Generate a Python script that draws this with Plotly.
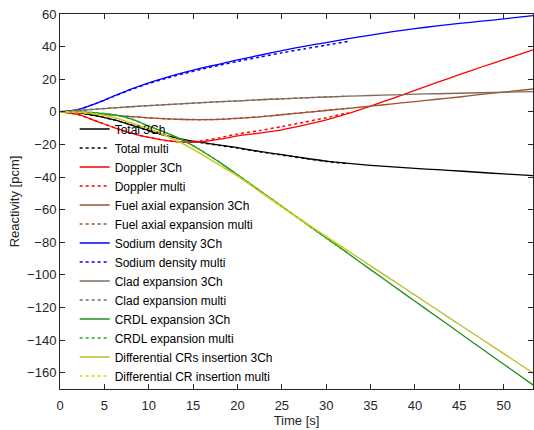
import plotly.graph_objects as go

# Time grids [s]
t_3ch = [0, 2, 4, 6, 8, 10, 12, 14, 16, 18, 20, 22.5, 25, 27.5, 30, 32.5,
         35, 37.5, 40, 42.5, 45, 47.5, 50, 53.3]
t_multi = [0, 2, 4, 6, 8, 10, 12, 14, 16, 18, 20, 22.5, 25, 27.5, 30, 32.5]

# Reactivity [pcm]
total_3ch = [0, -0.4, -2.3, -4.8, -8.0, -11.5, -14.6, -17.0, -18.8, -20.4, -22.0, -24.3,
             -26.3, -28.3, -30.2, -31.6, -32.8, -33.8, -34.7, -35.5, -36.3, -37.2, -38.1, -39.1]
total_multi = [0, -0.4, -2.3, -4.8, -8.0, -11.6, -14.8, -17.2, -19.0, -20.6, -22.2, -24.5,
               -26.5, -28.5, -30.4, -31.8]

doppler_3ch = [0, -1.6, -5.5, -9.5, -13.0, -15.7, -17.6, -18.6, -18.4, -16.8, -14.8, -13.0,
               -11.1, -8.2, -5.0, -1.0, 3.5, 8.3, 13.2, 18.0, 22.8, 27.5, 32.0, 38.0]
doppler_multi = [0, -1.6, -5.5, -9.5, -13.0, -15.7, -17.6, -18.5, -17.8, -15.9, -13.6, -11.5,
                 -9.0, -6.4, -3.6, -0.5]

fuel_3ch = [0, -0.4, -1.1, -2.0, -2.9, -3.7, -4.3, -4.7, -4.8, -4.6, -4.0, -3.1,
            -1.8, -0.5, 0.8, 2.1, 3.5, 4.9, 6.3, 7.7, 9.1, 10.7, 12.1, 14.0]
fuel_multi = [0, -0.4, -1.1, -2.0, -2.9, -3.7, -4.3, -4.7, -4.8, -4.6, -4.0, -3.0,
              -1.7, -0.4, 0.9, 2.2]

sodium_3ch = [0, 1.3, 5.0, 9.5, 13.9, 17.8, 21.2, 24.2, 26.9, 29.3, 31.8, 34.7,
              37.6, 40.1, 42.5, 44.9, 47.0, 49.2, 51.0, 52.7, 54.2, 55.6, 57.0, 59.0]
sodium_multi = [0, 1.3, 5.0, 9.4, 13.6, 17.4, 20.6, 23.5, 26.2, 28.6, 30.9, 33.6,
                36.2, 38.6, 40.9, 43.2]

clad_3ch = [0, 0.8, 1.6, 2.4, 3.1, 3.8, 4.4, 5.0, 5.6, 6.2, 6.7, 7.4,
            8.0, 8.6, 9.1, 9.6, 10.0, 10.4, 10.8, 11.1, 11.4, 11.7, 12.0, 12.4]
clad_multi = [0, 0.8, 1.6, 2.4, 3.1, 3.8, 4.4, 5.0, 5.6, 6.2, 6.7, 7.4,
              8.0, 8.6, 9.1, 9.6]

crdl_3ch = [0, -0.1, -0.6, -1.7, -4.3, -8.7, -12.9, -17.8, -24.0, -31.0, -38.6, -48.3,
            -58.0, -67.7, -77.4, -87.0, -96.8, -106.5, -116.2, -125.8, -135.5, -145.2, -154.8, -167.5]
crdl_multi = [0, -0.1, -0.6, -1.7, -4.3, -8.7, -12.9, -17.8, -24.0, -31.0, -38.6, -48.3,
              -58.0, -67.7, -77.4, -87.0]

dcr_3ch = [0, -0.2, -1.3, -3.4, -6.8, -10.5, -14.8, -20.0, -26.2, -32.8, -39.3, -48.8,
           -58.3, -67.5, -76.5, -85.5, -94.5, -103.4, -112.4, -121.4, -130.4, -139.3, -148.3, -160.2]
dcr_multi = [0, -0.2, -1.3, -3.4, -6.8, -10.5, -14.8, -20.0, -26.2, -32.8, -39.3, -48.8,
             -58.3, -67.5, -76.5, -85.5]

x_ticks = [0, 5, 10, 15, 20, 25, 30, 35, 40, 45, 50]
y_ticks = [-160, -140, -120, -100, -80, -60, -40, -20, 0, 20, 40, 60]

series = [
    ("Total 3Ch", t_3ch, total_3ch, "#000000", "solid"),
    ("Total multi", t_multi, total_multi, "#000000", "dot"),
    ("Doppler 3Ch", t_3ch, doppler_3ch, "#FF0000", "solid"),
    ("Doppler multi", t_multi, doppler_multi, "#FF0000", "dot"),
    ("Fuel axial expansion 3Ch", t_3ch, fuel_3ch, "#A0522D", "solid"),
    ("Fuel axial expansion multi", t_multi, fuel_multi, "#A0522D", "dot"),
    ("Sodium density 3Ch", t_3ch, sodium_3ch, "#0000FF", "solid"),
    ("Sodium density multi", t_multi, sodium_multi, "#0000FF", "dot"),
    ("Clad expansion 3Ch", t_3ch, clad_3ch, "#806A5A", "solid"),
    ("Clad expansion multi", t_multi, clad_multi, "#806A5A", "dot"),
    ("CRDL expansion 3Ch", t_3ch, crdl_3ch, "#1F8F1F", "solid"),
    ("CRDL expansion multi", t_multi, crdl_multi, "#1FAF1F", "dot"),
    ("Differential CRs insertion 3Ch", t_3ch, dcr_3ch, "#BDBD2A", "solid"),
    ("Differential CR insertion multi", t_multi, dcr_multi, "#D8D800", "dot"),
]

fig = go.Figure()
for name, t, v, col, dash in series:
    fig.add_trace(go.Scatter(
        x=t, y=v, mode="lines", name=name,
        line=dict(color=col, width=1.3 if dash == "solid" else 1.5, dash=dash,
                  shape="spline", smoothing=0.6),
    ))

axis_common = dict(
    showline=True, linecolor="#262626", linewidth=1, mirror="ticks",
    ticks="inside", ticklen=5, tickwidth=1, tickcolor="#262626",
    showgrid=False, zeroline=False,
    tickfont=dict(family="Liberation Sans, Arial", size=13, color="#262626"),
)

fig.update_layout(
    width=534, height=430,
    margin=dict(l=60, r=1, t=14, b=41),
    paper_bgcolor="white", plot_bgcolor="white",
    font=dict(family="Liberation Sans, Arial", size=13, color="#262626"),
    xaxis=dict(range=[0, 53.3], tickvals=x_ticks, ticklabelstandoff=4,
               title=dict(text="Time [s]", standoff=2,
                          font=dict(size=13, color="#262626")),
               **axis_common),
    yaxis=dict(range=[-170, 60], tickvals=y_ticks,
               title=dict(text="Reactivity [pcm]", standoff=4,
                          font=dict(size=13, color="#262626")),
               **axis_common),
    legend=dict(x=0.031, y=0.732, xanchor="left", yanchor="top",
                bgcolor="rgba(0,0,0,0)", borderwidth=0,
                font=dict(family="Liberation Sans, Arial", size=12, color="#000000"),
                itemwidth=30),
    showlegend=True,
)

fig.write_html("out.html")
